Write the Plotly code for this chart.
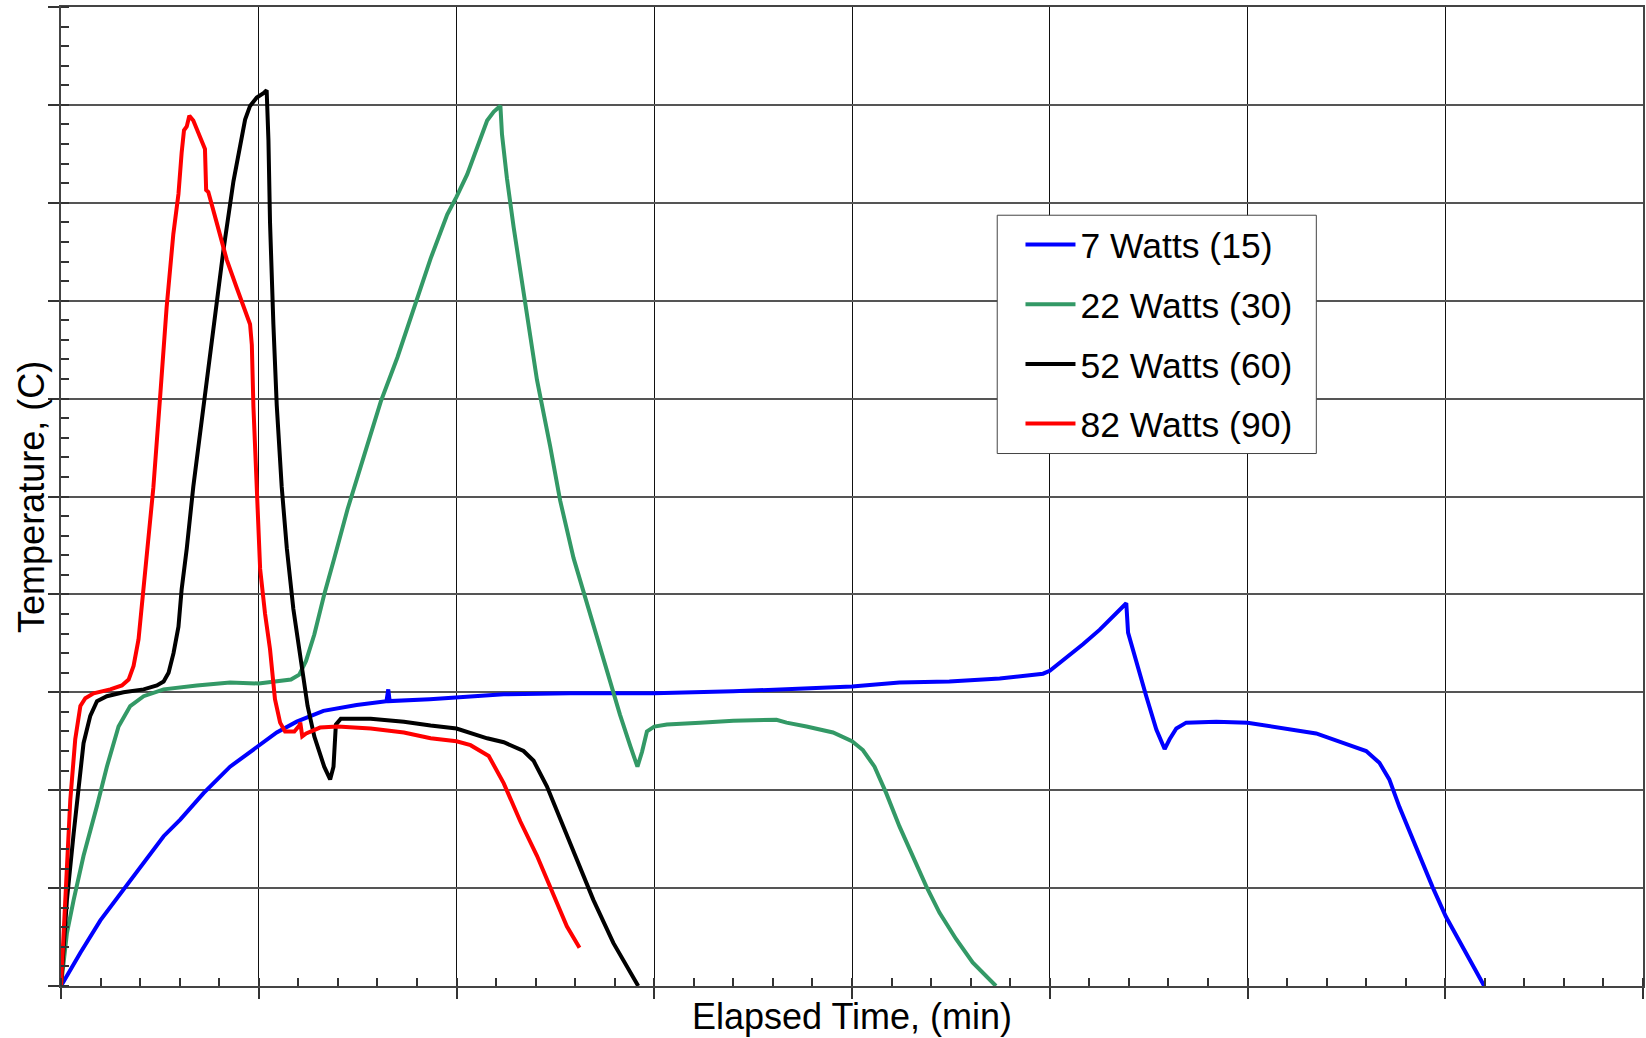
import plotly.graph_objects as go

# ---- data (x: elapsed time units, y: temperature units) ----
names = ["7 Watts (15)", "22 Watts (30)", "52 Watts (60)", "82 Watts (90)"]
colors = ["#0000FF", "#339966", "#000000", "#FF0000"]

blue_x = [0, 0.98, 1.99, 3.16, 4.18, 5.19, 6.03, 7.21, 8.55, 10.0, 10.91, 11.92, 13.27, 14.95,
          16.46, 16.55, 16.62, 18.65, 20.0, 22.39, 25.75, 29.1, 30.0, 34.0, 37.36, 40.0, 42.4,
          44.92, 47.47, 48.48, 49.66, 50.0, 50.84, 51.68, 52.53, 53.37, 53.87, 53.96, 54.38,
          54.88, 55.39, 55.81, 56.06, 56.4, 56.9, 58.42, 60.0, 61.78, 63.47, 65.15, 66.0,
          66.67, 67.17, 67.68, 68.52, 69.36, 70.03, 71.04, 71.97]
blue_y = [0, 3.4, 6.7, 9.9, 12.6, 15.3, 17.0, 19.7, 22.4, 24.5, 25.9, 27.0, 28.1, 28.7,
          29.1, 30.3, 29.1, 29.3, 29.5, 29.8, 29.9, 29.9, 29.9, 30.1, 30.4, 30.6, 31.0,
          31.1, 31.4, 31.6, 31.9, 32.2, 33.5, 34.9, 36.4, 38.1, 39.1, 36.1, 33.0,
          29.6, 26.2, 24.2, 25.2, 26.3, 26.9, 27.0, 26.9, 26.3, 25.8, 24.6, 24.0,
          22.8, 21.1, 18.3, 14.2, 10.1, 7.1, 3.3, 0]

green_x = [0, 0.3, 0.64, 1.14, 1.82, 2.32, 2.91, 3.5, 4.18, 5.19, 6.87, 8.55, 10.0, 11.08,
           11.63, 12.05, 12.39, 12.81, 13.31, 13.82, 14.49, 15.33, 16.17, 17.01, 17.86, 18.69,
           19.53, 20.0, 20.54, 21.21, 21.55, 21.88, 22.22, 22.3, 22.55, 22.89, 23.39, 24.07,
           24.74, 25.24, 25.92, 26.59, 27.26, 27.76, 28.27, 28.79, 29.15, 29.38, 29.63, 30.0,
           30.64, 32.32, 34.0, 36.18, 36.69, 37.7, 39.04, 40.0, 40.55, 41.14, 41.73, 42.4,
           43.08, 43.75, 44.42, 45.26, 46.1, 47.28]
green_y = [0, 5.4, 8.8, 13.3, 18.4, 22.4, 26.5, 28.6, 29.6, 30.3, 30.7, 31.0, 30.9, 31.1,
           31.3, 31.8, 33.2, 35.9, 40.0, 43.7, 48.7, 54.2, 59.7, 64.2, 69.2, 74.3,
           78.8, 80.6, 82.9, 86.6, 88.4, 89.3, 89.9, 87.0, 82.5, 77.5, 70.6, 61.9,
           55.1, 49.6, 43.7, 39.1, 34.6, 30.9, 27.7, 24.5, 22.4, 23.9, 26.0, 26.5,
           26.7, 26.9, 27.1, 27.2, 26.9, 26.5, 25.9, 25.0, 24.1, 22.4, 19.7, 16.3,
           13.3, 10.2, 7.5, 4.8, 2.4, 0]

black_x = [0, 0.3, 0.64, 0.89, 1.14, 1.48, 1.82, 2.32, 3.16, 4.18, 4.85, 5.19, 5.44, 5.69,
           5.94, 6.1, 6.36, 6.69, 7.2, 7.71, 8.21, 8.72, 9.14, 9.31, 9.56, 9.9, 10.24, 10.4,
           10.49, 10.57, 10.74, 10.91, 11.16, 11.42, 11.75, 12.09, 12.47, 12.81, 13.31, 13.61,
           13.78, 13.9, 14.15, 15.66, 17.34, 18.69, 20.0, 21.55, 22.39, 23.39, 23.9, 24.57,
           25.41, 26.25, 26.92, 27.93, 29.19]
black_y = [0, 8.8, 15.6, 20.7, 24.8, 27.6, 29.1, 29.6, 30.0, 30.3, 30.7, 31.1, 32.0, 34.0,
           36.7, 40.5, 44.7, 51.0, 59.3, 66.8, 75.1, 82.2, 86.8, 88.5, 89.9, 90.75, 91.2, 91.5,
           86.4, 78.0, 67.6, 59.3, 51.0, 44.7, 38.5, 33.5, 28.6, 25.5, 22.4, 21.1,
           22.4, 26.7, 27.3, 27.3, 27.0, 26.6, 26.3, 25.3, 24.9, 24.0, 23.0, 20.4,
           16.3, 12.2, 8.8, 4.4, 0.0]

red_x = [0, 0.22, 0.47, 0.72, 0.98, 1.23, 1.65, 2.49, 3.08, 3.42, 3.67, 3.92, 4.09, 4.33,
         4.67, 5.01, 5.34, 5.68, 5.94, 6.10, 6.22, 6.36, 6.49, 6.69, 6.95, 7.28, 7.34, 7.45,
         7.87, 8.38, 8.89, 9.31, 9.56, 9.65, 9.73, 9.90, 10.07, 10.32, 10.57, 10.82, 11.08,
         11.33, 11.8, 12.05, 12.1, 12.2, 12.4, 13.1, 13.98, 15.66, 17.34, 18.69, 20.0, 20.71,
         21.63, 22.39, 23.23, 24.07, 24.91, 25.58, 26.22]
red_y = [0, 8.8, 19.0, 25.2, 28.6, 29.4, 29.9, 30.3, 30.7, 31.3, 32.7, 35.4, 39.0, 43.8,
         50.9, 60.1, 69.3, 76.8, 80.9, 85.1, 87.4, 87.8, 88.9, 88.4, 87.2, 85.5, 81.3, 81.1,
         78.0, 74.2, 71.3, 69.0, 67.6, 65.5, 59.2, 50.9, 42.6, 38.0, 34.4, 29.3, 26.9,
         26.0, 26.0, 26.6, 26.9, 25.5, 25.8, 26.4, 26.5, 26.3, 25.9, 25.3, 25.0, 24.6,
         23.5, 20.7, 16.8, 13.3, 9.2, 6.1, 3.9]

series_x = [blue_x, green_x, black_x, red_x]
series_y = [blue_y, green_y, black_y, red_y]

FONT = "Arial, 'Liberation Sans', sans-serif"

fig = go.Figure()
for i in range(4):
    fig.add_trace(go.Scatter(
        x=series_x[i], y=series_y[i], mode="lines", name=names[i],
        line=dict(color=colors[i], width=4), legendgroup=str(i),
    ))

axis_common = dict(
    showticklabels=False, showline=True, mirror=True, linecolor="#444", linewidth=2,
    ticks="outside", ticklen=11, tickwidth=1.5, tickcolor="#333",
    zeroline=False, showgrid=True,
)

fig.update_xaxes(
    range=[0, 80], dtick=10, tick0=0, gridcolor="#111", gridwidth=1,
    minor=dict(dtick=2, ticks="inside", ticklen=8, tickwidth=1.5, tickcolor="#333", showgrid=False),
    title=dict(text="Elapsed Time, (min)", font=dict(family=FONT, size=36, color="black"), standoff=6),
    **axis_common,
)
fig.update_yaxes(
    range=[0, 100], dtick=10, tick0=0, gridcolor="#555", gridwidth=1.5,
    minor=dict(dtick=2, ticks="inside", ticklen=8, tickwidth=1.5, tickcolor="#333", showgrid=False),
    **axis_common,
)

# y-axis title placed as an annotation for precise positioning
fig.add_annotation(
    text="Temperature, (C)", xref="paper", yref="paper", x=-0.0187, y=0.5,
    xanchor="center", yanchor="middle", textangle=-90, showarrow=False,
    font=dict(family=FONT, size=36, color="black"),
)

# legend frame (white box with border)
fig.add_shape(
    type="rect", xref="paper", yref="paper", x0=0.5918, x1=0.7935, y0=0.5439, y1=0.7873,
    fillcolor="white", line=dict(color="#444", width=1), layer="above",
)

fig.update_layout(
    width=1646, height=1038,
    margin=dict(l=61, r=3, t=7, b=52, autoexpand=False),
    plot_bgcolor="white", paper_bgcolor="white",
    font=dict(family=FONT, color="black"),
    legend=dict(
        x=0.6065, y=0.7875, xanchor="left", yanchor="top",
        bgcolor="rgba(0,0,0,0)", borderwidth=0,
        font=dict(family=FONT, size=35.5, color="black"),
        tracegroupgap=10.5, itemwidth=50,
    ),
    showlegend=True,
)

fig.write_html(
    "out.html",
    config={"displayModeBar": False},
    post_script="document.body.style.margin='0';document.body.style.overflow='hidden';",
)
